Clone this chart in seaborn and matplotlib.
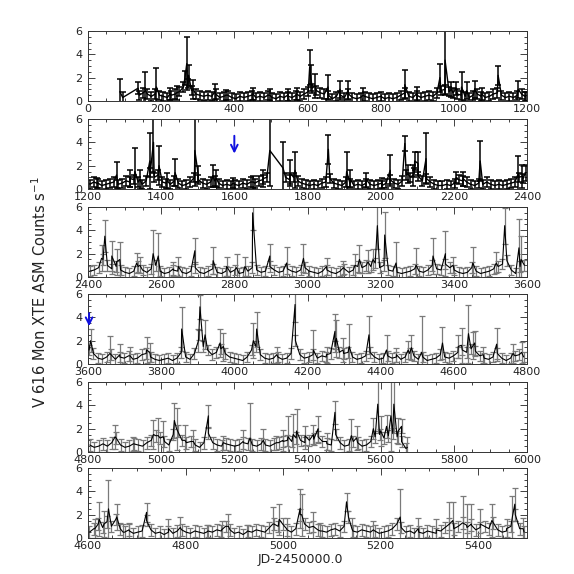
import numpy as np
import pandas as pd
import matplotlib
matplotlib.use("Agg")
import matplotlib.pyplot as plt
from matplotlib.ticker import MultipleLocator
import seaborn as sns

sns.set_theme(style="ticks")
plt.rcParams['font.family'] = ['DejaVu Sans']

# x ranges of the six panels (JD-2450000)
xlims = [(0, 1200), (1200, 2400), (2400, 3600), (3600, 4800), (4800, 6000), (4600, 5500)]

# quiet-level rates, sampled as (start day, step, values)
base_p1 = [(140, 11, [0.5, 0.7, 0.6, 0.4, 0.6, 0.5, 0.4, 0.3, 0.5, 0.6, 0.8, 1.2, 1.5, 0.9, 0.6, 0.5, 0.4, 0.5, 0.4, 0.6,
                      0.3, 0.4, 0.5, 0.3, 0.2, 0.4, 0.3, 0.4, 0.5, 0.3, 0.4, 0.3, 0.5, 0.3, 0.2, 0.4, 0.3, 0.4, 0.3, 0.5,
                      0.4, 0.6, 0.8, 1.1, 0.9, 0.7, 0.6, 0.5, 0.2, 0.4, 0.5, 0.3, 0.6, 0.3, 0.2, 0.3, 0.4, 0.3, 0.2, 0.3,
                      0.4, 0.2, 0.3, 0.2, 0.3, 0.5, 0.7, 0.4, 0.3, 0.5, 0.3, 0.4, 0.5, 0.4, 0.7, 0.9, 1.0, 0.8, 0.7, 0.6,
                      0.5, 0.4, 0.3, 0.5, 0.6, 0.4, 0.3, 0.4, 0.6, 0.7, 0.5, 0.3, 0.4, 0.3, 0.5, 0.6, 0.4])]
base_p2 = [(1205, 11, [0.4, 0.6, 0.5, 0.3, 0.4, 0.5, 0.6, 0.4, 0.5, 0.7, 0.6, 0.8, 0.6, 0.4, 0.7, 1.4, 1.0, 1.2, 0.6, 0.5,
                       0.4, 0.7, 0.5, 0.3, 0.4, 0.6, 1.0, 0.8, 0.5, 0.4, 0.6, 0.7, 0.5, 0.3, 0.4, 0.3, 0.4, 0.3, 0.5, 0.4,
                       0.6, 0.5, 0.7, 0.8, 1.0]),
           (1740, 11, [1.0, 0.8, 1.0, 0.7, 0.5, 0.4, 0.3, 0.4, 0.3, 0.5, 0.6, 0.9, 0.5, 0.4, 0.3, 0.6, 0.5, 0.3, 0.4, 0.3,
                       0.5, 0.4, 0.3, 0.4, 0.3, 0.5, 0.8, 0.5, 0.4, 0.7, 1.2, 1.0, 1.4, 1.1, 0.7, 0.9, 0.6, 0.4, 0.3, 0.3,
                       0.4, 0.3, 0.5, 0.8, 0.7, 0.6, 0.4, 0.3, 0.5, 0.4, 0.6, 0.4, 0.3, 0.4, 0.3, 0.4, 0.5, 0.6, 1.0, 0.9])]
base_p3 = [(2405, 12, [0.5, 0.6, 0.8, 1.5, 1.0, 0.7, 0.9, 0.6, 0.4, 0.3, 0.5, 0.9, 0.6, 0.4, 0.7, 1.0, 0.5, 0.3, 0.4, 0.6,
                       0.5, 0.4, 0.3, 0.5, 0.8, 0.4, 0.3, 0.5, 0.7, 0.4, 0.3, 0.5, 0.4, 0.6, 0.3, 0.4, 0.5, 0.8, 0.6, 0.4,
                       0.5, 0.9, 0.6, 0.4, 0.5, 0.7, 0.5, 0.4, 0.6, 0.8, 0.5, 0.4, 0.3, 0.5, 0.6, 0.4, 0.3, 0.5, 0.7, 0.4,
                       0.6, 0.9, 0.8, 1.0, 0.9, 1.2, 0.8, 1.0, 0.6, 0.5, 0.4, 0.3, 0.4, 0.5, 0.7, 0.5, 0.4, 0.6, 1.0, 0.7,
                       0.6, 1.1, 0.8, 0.6, 0.4, 0.3, 0.4, 0.8, 0.5, 0.3, 0.4, 0.5, 0.7, 0.9, 1.1, 1.4, 0.6, 0.3, 0.9, 1.0])]
base_p4 = [(3603, 12, [1.2, 0.9, 0.5, 0.4, 0.6, 0.8, 0.4, 0.6, 0.5, 0.7, 0.4, 0.5, 0.8, 0.9, 0.6, 0.4, 0.3, 0.4, 0.5, 0.3,
                       0.5, 1.0, 0.6, 0.4, 0.9, 2.5, 1.5, 1.2, 0.8, 1.0, 1.3, 0.9, 0.6, 0.5, 0.4, 0.3, 0.6, 1.2, 1.5, 0.8,
                       0.5, 0.4, 0.5, 0.6, 0.4, 0.5, 0.9, 2.0, 0.8, 0.5, 0.6, 0.8, 0.5, 0.7, 0.6, 0.9, 1.5, 1.0, 0.9, 1.0,
                       0.6, 0.4, 0.5, 0.7, 1.0, 0.6, 0.4, 0.5, 0.7, 0.5, 0.6, 0.4, 0.6, 0.9, 0.7, 0.4, 0.6, 0.3, 0.4, 0.5,
                       0.8, 0.6, 0.5, 0.7, 1.0, 1.2, 1.0, 1.3, 1.1, 0.7, 0.5, 0.4, 0.6, 0.9, 0.5, 0.3, 0.5, 0.7, 0.8, 0.6])]
base_p5 = [(4805, 12, [0.6, 0.4, 0.5, 0.7, 0.5, 0.8, 1.2, 0.6, 0.4, 0.5, 0.7, 0.6, 0.5, 0.8, 1.0, 1.4, 1.2, 0.9, 0.6, 1.5,
                       1.8, 1.0, 0.8, 0.9, 0.6, 0.4, 0.8, 1.6, 0.8, 0.6, 0.5, 0.7, 0.6, 0.5, 0.6, 0.8, 0.7, 0.6, 0.5, 0.7,
                       0.6, 0.5, 0.7, 0.8, 0.9, 1.0, 0.9, 1.2, 1.0, 0.8, 1.0, 1.1, 1.3, 0.9, 0.7, 0.6, 1.5, 0.8, 0.5, 0.6,
                       0.9, 0.8, 0.5, 0.6, 0.9, 1.3, 1.5, 1.2, 1.4, 1.6, 1.3, 0.9, 0.3])]
base_p6 = [(4603, 9, [0.5, 0.8, 1.2, 0.9, 1.4, 1.0, 1.6, 0.8, 0.5, 0.7, 0.4, 0.5, 0.6, 1.5, 0.7, 0.4, 0.5, 0.3, 0.5, 0.4,
                      0.6, 0.7, 0.5, 0.4, 0.6, 0.5, 0.4, 0.6, 0.5, 0.7, 0.6, 1.0, 0.7, 0.4, 0.5, 0.3, 0.6, 0.5, 0.7, 0.6,
                      0.5, 0.9, 1.2, 1.0, 1.2, 0.7, 0.5, 0.8, 2.0, 1.2, 0.9, 1.0, 0.7, 0.6, 0.5, 0.7, 0.8, 0.6, 1.0, 1.8,
                      0.6, 0.5, 0.7, 0.6, 0.5, 0.6, 0.4, 0.5, 0.6, 0.8, 1.2, 0.9, 0.5, 0.6, 0.4, 0.5, 0.4, 0.6, 0.5, 0.4,
                      0.6, 0.9, 1.2, 0.8, 1.0, 1.3, 0.9, 1.1, 0.7, 0.9, 1.0, 0.8, 1.3, 0.7, 0.5, 0.6, 1.0, 2.0, 0.8, 0.5])]
base_err = [0.4, 0.4, 0.45, 0.45, 0.5, 0.5]

# flares / isolated points: (day, rate, error)
flare_p1 = [(87, 0.8, 1.1), (95, 0.3, 0.5), (137, 1.1, 0.5), (157, 0.9, 1.6), (187, 1.2, 1.6), (224, 0.6, 0.5),
            (242, 0.7, 0.6), (265, 2.0, 0.6), (270, 3.2, 2.25), (275, 2.2, 0.9), (288, 1.0, 0.8), (347, 0.8, 0.7),
            (378, 0.5, 0.45), (451, 0.6, 0.5), (497, 0.5, 0.5), (546, 0.5, 0.5), (570, 0.6, 0.5), (606, 2.9, 1.5),
            (609, 2.0, 1.1), (620, 1.3, 1.0), (656, 1.2, 1.0), (689, 1.0, 0.75), (711, 0.9, 0.8), (752, 0.5, 0.6),
            (866, 1.4, 1.25), (898, 0.6, 0.6), (962, 2.0, 1.2), (976, 3.5, 3.0), (993, 1.0, 0.65), (1007, 1.1, 0.55),
            (1021, 1.2, 1.25), (1035, 0.9, 0.75), (1057, 1.0, 0.7), (1076, 0.6, 0.5), (1121, 2.2, 0.8),
            (1176, 1.0, 0.75), (1194, 0.4, 0.4)]
flare_p2 = [(1224, 0.5, 0.45), (1278, 1.2, 1.15), (1315, 0.9, 0.7), (1328, 1.5, 2.0), (1342, 0.8, 0.8),
            (1369, 2.4, 2.4), (1379, 4.0, 2.5), (1394, 2.0, 1.65), (1417, 0.7, 0.7), (1438, 1.4, 1.15),
            (1492, 3.3, 3.0), (1501, 1.3, 0.7), (1542, 1.1, 0.95), (1551, 0.9, 0.7), (1597, 0.5, 0.45),
            (1652, 0.6, 0.5), (1679, 0.9, 0.7), (1697, 3.3, 3.0), (1733, 1.8, 2.2), (1752, 1.4, 1.1),
            (1766, 1.6, 1.55), (1857, 3.4, 1.25), (1907, 1.5, 1.65), (1916, 0.9, 0.7), (1961, 0.8, 0.6),
            (2003, 0.5, 0.45), (2026, 1.6, 1.35), (2066, 3.9, 0.65), (2075, 1.3, 0.8), (2089, 1.2, 0.9),
            (2093, 2.4, 0.8), (2102, 2.2, 1.0), (2124, 2.6, 2.2), (2207, 1.0, 0.5), (2225, 0.9, 0.6),
            (2272, 2.4, 1.75), (2376, 1.3, 1.55), (2387, 1.1, 1.0), (2396, 1.4, 0.7)]
flare_p3 = [(2437, 1.6, 1.1), (2446, 3.5, 1.35), (2465, 1.8, 1.3), (2478, 1.3, 1.1), (2487, 1.5, 1.5),
            (2533, 1.2, 0.85), (2542, 1.0, 0.7), (2578, 2.0, 2.05), (2592, 1.8, 2.0), (2633, 0.7, 0.6),
            (2647, 0.9, 0.8), (2692, 2.25, 1.1), (2742, 1.4, 1.15), (2779, 0.9, 0.8), (2806, 0.8, 1.15),
            (2829, 0.9, 0.8), (2850, 5.5, 1.5), (2897, 1.8, 1.0), (2943, 1.2, 1.35), (2989, 1.6, 1.2),
            (3052, 0.9, 0.7), (3098, 0.8, 0.6), (3130, 1.0, 1.0), (3142, 1.5, 1.2), (3165, 1.3, 1.0),
            (3179, 1.5, 0.9), (3191, 4.4, 2.0), (3211, 3.6, 2.0), (3242, 1.2, 1.8), (3297, 1.0, 1.5),
            (3343, 1.8, 1.55), (3377, 2.0, 1.9), (3398, 1.0, 0.7), (3452, 1.2, 1.4), (3516, 1.2, 0.9),
            (3539, 4.4, 1.55), (3578, 2.5, 2.5), (3584, 1.5, 2.0)]
flare_p4 = [(3607, 2.0, 1.0), (3660, 0.9, 1.5), (3687, 0.8, 0.9), (3715, 0.7, 0.8), (3760, 1.2, 1.1),
            (3769, 1.0, 0.8), (3856, 3.0, 1.9), (3902, 2.0, 1.0), (3906, 4.9, 1.0), (3920, 2.5, 1.25),
            (3961, 1.8, 1.2), (3970, 1.5, 1.2), (4052, 2.0, 1.5), (4061, 3.0, 1.5), (4116, 0.8, 0.7),
            (4166, 5.1, 1.5), (4216, 1.2, 1.7), (4252, 0.8, 0.7), (4275, 2.8, 1.5), (4279, 2.2, 1.6),
            (4297, 1.2, 1.0), (4314, 1.5, 1.9), (4368, 2.5, 1.6), (4416, 1.2, 1.25), (4443, 0.8, 0.6),
            (4475, 1.2, 0.8), (4484, 1.4, 1.05), (4512, 1.0, 3.15), (4569, 1.8, 1.4), (4612, 1.5, 1.0),
            (4621, 1.6, 1.5), (4640, 2.6, 2.5), (4653, 1.6, 1.15), (4657, 1.8, 1.0), (4680, 0.8, 0.7),
            (4717, 1.7, 1.4), (4762, 0.9, 0.8), (4785, 1.0, 0.9)]
flare_p5 = [(4874, 1.3, 1.0), (4924, 0.7, 0.6), (4979, 1.5, 1.25), (4992, 1.4, 1.5), (5006, 1.3, 1.4),
            (5036, 2.7, 1.5), (5042, 2.0, 1.8), (5065, 1.0, 1.3), (5088, 0.9, 1.0), (5129, 3.1, 0.95),
            (5170, 0.8, 0.6), (5224, 0.9, 1.0), (5243, 1.2, 3.0), (5279, 1.0, 1.0), (5315, 0.8, 0.6),
            (5333, 1.0, 0.9), (5347, 1.3, 1.8), (5361, 1.5, 1.8), (5370, 1.8, 1.9), (5393, 1.4, 0.8),
            (5416, 1.5, 0.8), (5429, 2.0, 1.1), (5452, 0.9, 0.7), (5475, 3.4, 1.0), (5520, 1.4, 1.4),
            (5534, 1.2, 1.0), (5580, 2.0, 0.9), (5592, 4.1, 2.5), (5600, 1.8, 1.3), (5616, 2.2, 1.0),
            (5628, 3.1, 3.0), (5636, 4.1, 2.5), (5648, 1.8, 1.1), (5657, 2.2, 0.6), (5673, 0.4, 0.9)]
flare_p6 = [(4614, 0.8, 0.8), (4623, 1.6, 1.45), (4633, 1.2, 1.1), (4642, 2.5, 2.5), (4659, 1.8, 1.15),
            (4672, 0.5, 0.7), (4685, 0.6, 0.7), (4720, 2.2, 0.8), (4765, 0.8, 0.8), (4789, 0.9, 0.9),
            (4843, 0.5, 0.6), (4874, 0.7, 0.8), (4888, 1.0, 1.1), (4925, 0.5, 0.6), (4979, 1.2, 1.5),
            (4992, 1.6, 1.3), (5007, 0.8, 0.9), (5035, 2.55, 1.65), (5038, 2.0, 1.8), (5062, 1.0, 1.2),
            (5076, 0.6, 0.7), (5130, 3.1, 0.8), (5141, 0.8, 0.9), (5185, 0.7, 0.8), (5240, 1.8, 2.4),
            (5277, 0.8, 0.9), (5314, 0.7, 0.9), (5341, 1.2, 1.85), (5348, 1.5, 1.6), (5368, 1.3, 2.3),
            (5376, 1.1, 1.8), (5386, 1.2, 1.7), (5404, 1.2, 1.3), (5428, 1.5, 1.45), (5458, 0.8, 0.8),
            (5470, 1.8, 1.8), (5475, 2.9, 1.4), (5492, 0.8, 0.9)]

bases = [base_p1, base_p2, base_p3, base_p4, base_p5, base_p6]
flares = [flare_p1, flare_p2, flare_p3, flare_p4, flare_p5, flare_p6]

# blue arrows: (panel, day, from rate, to rate)
arrows = [(1, 1600, 4.8, 2.8), (3, 3603, 4.6, 3.0)]

# axes boxes, top edge in pixels
tops = [31, 119, 207, 294, 382, 468]
H = 574.0

fig = plt.figure(figsize=(5.74, 5.74), dpi=100)
axes = []
for i in range(6):
    bottom = 1 - (tops[i] + 70) / H
    ax = fig.add_axes([88 / H, bottom, 439 / H, 70 / H])
    axes.append(ax)

for i, ax in enumerate(axes):
    rows = []
    for start, step, vals in bases[i]:
        for k, v in enumerate(vals):
            rows.append((start + step * k, v, base_err[i]))
    rows += flares[i]
    df = pd.DataFrame(rows, columns=['t', 'rate', 'err']).sort_values('t')

    # early data in black, later data with grey error bars
    if i < 2:
        ecol, ew, lw = 'black', 1.1, 1.0
    else:
        ecol, ew, lw = '#7a7a7a', 0.9, 0.8
    ax.errorbar(df['t'], df['rate'], yerr=df['err'], fmt='none', ecolor=ecol,
                elinewidth=ew, capsize=2.2, capthick=ew, zorder=2)
    sns.lineplot(data=df, x='t', y='rate', ax=ax, color='black', lw=lw,
                 estimator=None, sort=False, zorder=3)

    ax.set_xlim(*xlims[i])
    ax.set_ylim(0, 6)
    ax.set_xlabel('')
    ax.set_ylabel('')
    ax.xaxis.set_major_locator(MultipleLocator(200))
    ax.xaxis.set_minor_locator(MultipleLocator(50))
    ax.yaxis.set_major_locator(MultipleLocator(2))
    ax.yaxis.set_minor_locator(MultipleLocator(0.5))
    ax.tick_params(which='both', direction='in', top=True, right=True,
                   colors='#222222', labelsize=8, width=0.6)
    ax.tick_params(axis='x', pad=2.5)
    ax.tick_params(axis='y', pad=4)
    ax.tick_params(which='major', length=5)
    ax.tick_params(which='minor', length=2.5)
    for s in ax.spines.values():
        s.set_linewidth(0.7)
        s.set_color('#333333')

for p, day, y0, y1 in arrows:
    axes[p].annotate('', xy=(day, y1), xytext=(day, y0),
                     arrowprops=dict(arrowstyle='->', color='#1010e0', lw=1.4,
                                     mutation_scale=12), zorder=5)

fig.text(300 / H, 1 - 560 / H, 'JD-2450000.0', ha='center', va='center',
         fontsize=9, color='#222222')
fig.text(40 / H, 1 - 292 / H, 'V 616 Mon XTE ASM Counts s$^{-1}$', ha='center',
         va='center', rotation=90, fontsize=10.5, color='#222222')

fig.savefig('out.png', dpi=100, facecolor='white')
